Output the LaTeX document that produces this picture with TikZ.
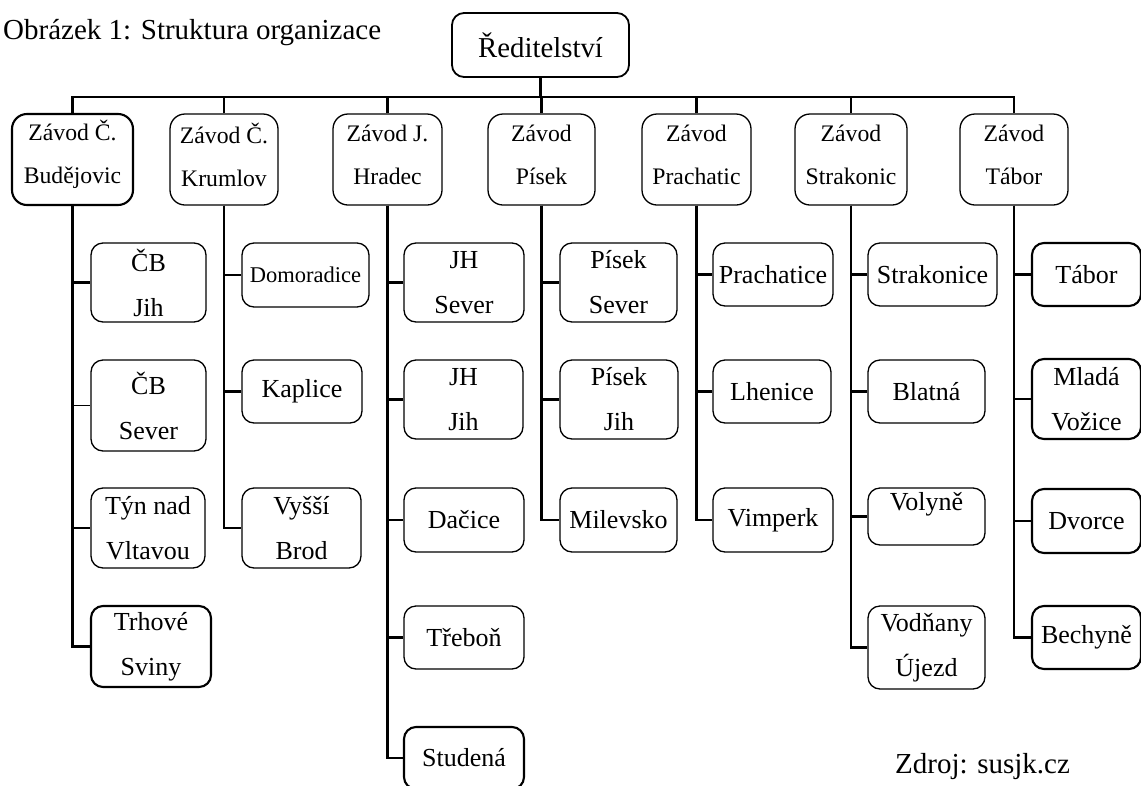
\documentclass[tikz,border=0pt]{standalone}
\usepackage{fontspec}
\setmainfont{Liberation Serif}
\usetikzlibrary{fit}
\newcommand{\capfont}{\fontsize{29}{34}\selectfont}

\begin{document}
\begin{tikzpicture}[x=1pt, y=-1pt,
	unit/.style={draw, rounded corners=12pt, line width=1.3pt, inner sep=0pt},
	heavy/.style={line width=2.1pt},
	link/.style={line width=2.8pt},
	slim/.style={line width=1.6pt},
	boss/.style={align=center, inner sep=0pt, font=\fontsize{28.8}{34}\selectfont},
	plant/.style={align=center, inner sep=0pt, yshift=5pt, font=\fontsize{23.7}{43}\selectfont},
	site/.style={align=center, inner sep=0pt, font=\fontsize{26}{45}\selectfont}]
	\path[use as bounding box] (0,0) rectangle (1141,785);
	\clip (0,0) rectangle (1141,785);

	\node[anchor=base west, inner sep=0pt, font=\capfont] (title) at (3,39.5) {Obrázek 1: Struktura organizace};
	\node[anchor=base west, inner sep=0pt, font=\capfont] (source) at (895,773) {Zdroj: susjk.cz};

	% top and plants
	\node[unit, line width=1.8pt, fit={(452,13) (629,77)}, label={[boss]center:Ředitelství}] (head) {};
	\node[unit, heavy, rounded corners=15pt, fit={(12,114) (133,205)}, label={[plant]center:Závod Č.\\Budějovic}] (cb) {};
	\node[unit, rounded corners=15pt, fit={(170,114) (278,205)}, label={[plant]center:Závod Č.\\Krumlov}] (ck) {};
	\node[unit, rounded corners=15pt, fit={(333,114) (442,205)}, label={[plant]center:Závod J.\\Hradec}] (jh) {};
	\node[unit, rounded corners=15pt, fit={(488,114) (595,205)}, label={[plant]center:Závod\\Písek}] (pi) {};
	\node[unit, rounded corners=15pt, fit={(642,114) (751,205)}, label={[plant]center:Závod\\Prachatic}] (pr) {};
	\node[unit, rounded corners=15pt, fit={(795,114) (907,205)}, label={[plant]center:Závod\\Strakonic}] (st) {};
	\node[unit, rounded corners=15pt, fit={(960,114) (1068,205)}, label={[plant]center:Závod\\Tábor}] (ta) {};

	% sites
	\node[unit, fit={(91,243) (206,322)}, label={[site]center:ČB\\Jih}] (cbj) {};
	\node[unit, fit={(91,360) (206,451)}, label={[site]center:ČB\\Sever}] (cbs) {};
	\node[unit, fit={(91,488) (205,568)}, label={[site]center:Týn nad\\Vltavou}] (tyn) {};
	\node[unit, heavy, fit={(91,606) (211,687)}, label={[site]center:Trhové\\Sviny}] (trh) {};

	\node[unit, fit={(242,243) (369,307)}, label={[site, font=\fontsize{22.5}{27}\selectfont]center:Domoradice}] (dom) {};
	\node[unit, fit={(242,360) (362,423)}, label={[site]center:Kaplice}] (kap) {};
	\node[unit, fit={(242,488) (361,568)}, label={[site]center:Vyšší\\Brod}] (vys) {};

	\node[unit, fit={(404,243) (524,322)}, label={[site]center:JH\\Sever}] (jhs) {};
	\node[unit, fit={(404,360) (523,439)}, label={[site]center:JH\\Jih}] (jhj) {};
	\node[unit, fit={(404,488) (524,552)}, label={[site]center:Dačice}] (dac) {};
	\node[unit, fit={(404,606) (524,669)}, label={[site]center:Třeboň}] (tre) {};
	\node[unit, heavy, fit={(404,727) (524,789)}, label={[site]center:Studená}] (stu) {};

	\node[unit, fit={(560,243) (677,322)}, label={[site]center:Písek\\Sever}] (pis) {};
	\node[unit, fit={(560,360) (678,439)}, label={[site]center:Písek\\Jih}] (pij) {};
	\node[unit, fit={(560,488) (677,552)}, label={[site]center:Milevsko}] (mil) {};

	\node[unit, fit={(713,243) (833,306)}, label={[site]center:Prachatice}] (pce) {};
	\node[unit, fit={(713,360) (831,423)}, label={[site]center:Lhenice}] (lhe) {};
	\node[unit, fit={(713,488) (833,552)}, label={[site]center:Vimperk}] (vim) {};

	\node[unit, fit={(868,243) (997,306)}, label={[site]center:Strakonice}] (skc) {};
	\node[unit, fit={(868,360) (985,423)}, label={[site]center:Blatná}] (bla) {};
	\node[unit, fit={(868,488) (985,545)}, label={[site, yshift=12pt]center:Volyně}] (vol) {};
	\node[unit, fit={(868,606) (985,689)}, label={[site]center:Vodňany\\Újezd}] (vod) {};

	\node[unit, heavy, fit={(1032,243) (1141,306)}, label={[site]center:Tábor}] (tab) {};
	\node[unit, heavy, fit={(1032,359) (1141,439)}, label={[site]center:Mladá\\Vožice}] (mla) {};
	\node[unit, heavy, fit={(1032,489) (1141,553)}, label={[site]center:Dvorce}] (dvo) {};
	\node[unit, heavy, fit={(1032,606) (1141,669)}, label={[site]center:Bechyně}] (bec) {};

	% bar
	\coordinate (bar) at ([yshift=-19pt]head.south);
	\draw[link] (head.south) -- (bar);
	\draw[link] (cb.north) |- (bar) -| (ta.north);
	\foreach \n in {ck,jh,pi,pr,st}
		\draw[link] (\n.north) -- (\n.north |- bar);

	% stems
	\foreach \c in {cbj,tyn,trh}
		\draw[link] (cb.south) |- (\c.west);
	\draw[slim] (cb.south |- cbs.west) -- (cbs.west);
	\foreach \c in {dom,kap,vys}
		\draw[link] (ck.south) |- (\c.west);
	\foreach \c in {jhs,jhj,tre,stu}
		\draw[link] (jh.south) |- (\c.west);
	\draw[slim] (jh.south |- dac.west) -- (dac.west);
	\foreach \c in {pis,pij,mil}
		\draw[link] (pi.south) |- (\c.west);
	\foreach \c in {pce,lhe,vim}
		\draw[link] (pr.south) |- (\c.west);
	\foreach \c in {skc,bla,vol,vod}
		\draw[link] (st.south) |- (\c.west);
	\foreach \c in {tab,mla,dvo,bec}
		\draw[link] (ta.south) |- (\c.west);
\end{tikzpicture}
\end{document}
